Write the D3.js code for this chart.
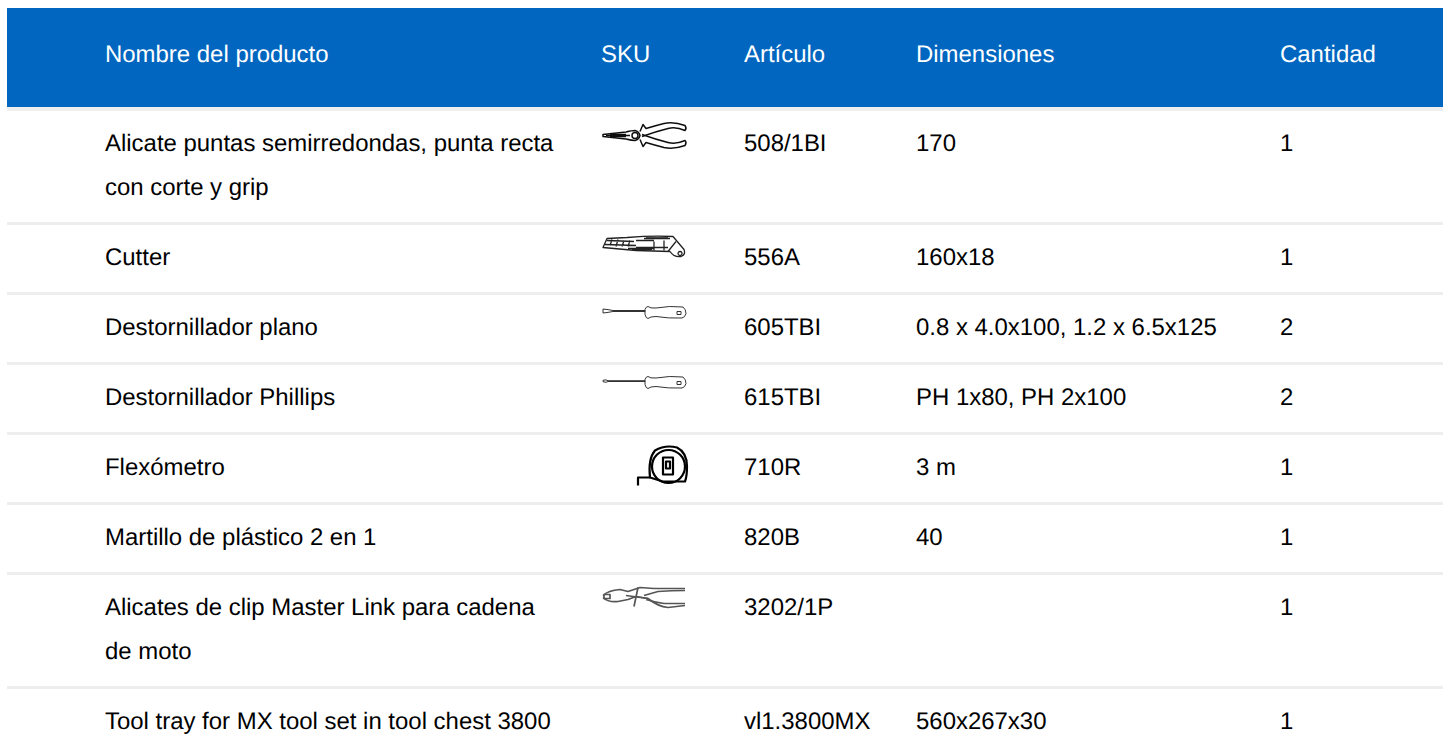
<!DOCTYPE html>
<html>
<head>
<meta charset="utf-8">
<script src="https://cdn.jsdelivr.net/npm/d3@7"></script>
<style>
    html, body { margin: 0; padding: 0; background: #fff; overflow: hidden; }
    text { font-family: "Liberation Sans", Arial, sans-serif; font-size: 23.95px; text-rendering: geometricPrecision; }
</style>
</head>
<body>
<div id="chart"></div>
<script>
const headers = ['Nombre del producto', 'SKU', 'Artículo', 'Dimensiones', 'Cantidad'];
const names = [
    ['Alicate puntas semirredondas, punta recta', 'con corte y grip'],
    ['Cutter'],
    ['Destornillador plano'],
    ['Destornillador Phillips'],
    ['Flexómetro'],
    ['Martillo de plástico 2 en 1'],
    ['Alicates de clip Master Link para cadena', 'de moto'],
    ['Tool tray for MX tool set in tool chest 3800']
];
const icons = ['pliers', 'cutter', 'flat', 'phillips', 'tape', null, 'clip', null];
const articles = ['508/1BI', '556A', '605TBI', '615TBI', '710R', '820B', '3202/1P', 'vl1.3800MX'];
const dimensions = ['170', '160x18', '0.8 x 4.0x100, 1.2 x 6.5x125', 'PH 1x80, PH 2x100', '3 m', '40', '', '560x267x30'];
const quantities = ['1', '1', '2', '2', '1', '1', '1', '1'];

// Line drawings, local coordinates of the thumbnail
const iconPaths = {
    pliers: [
        'M1 12 L24 9.5 Q30 8 33 8 Q37 9 38 13 Q37 17 33 18 Q30 18 24 16.5 L1 14 Z',
        'M4 13 H28 M8 12 H24 M8 14 H24',
        'M38 9 L41 2 L44 6 Q54 3 62 1 Q72 -1 83 3 Q85 6 83 8 Q74 4 66 6 Q54 9 40 14',
        'M38 17 L41 24 L44 20 Q54 23 62 25 Q72 27 83 23 Q85 20 83 18 Q74 22 66 20 Q54 17 40 12',
        'M30 13 A3 3 0 1 1 36 13 A3 3 0 1 1 30 13 Z'
    ],
    cutter: [
        'M1 11 L5 2 L25 1 Q50 -1 71 0 L82 13 Q84 18 79 20 Q72 21 68 15 L34 14 L1 11 Z',
        'M5 4 L32 5 M3 8 L34 9 M10 3 L8 9 M16 3 L14 10 M22 4 L20 10 M28 4 L26 10',
        'M42 2 H68 M52 5 V14 M62 4 V14 M74 5 L66 15 M34 4 H52 M34 11 H66',
        'M26 12 H52 M30 13 H50 M44 1.5 H66 M78 15 A2 2 0 1 0 78.1 15 Z'
    ],
    flat: [
        'M1 2.5 Q6 3 11 4 H43 V5 H11 Q6 6 1 6.5 Z',
        'M43 3 Q44 0 46 0 Q48 2 54 1.5 Q68 -1 81 0.5 Q84 3 84 7 Q83 11 80 11.5 Q66 12 54 10 Q48 10 46 12 Q44 12 43 8 Z',
        'M75 5 H79 V8 H75 Z'
    ],
    phillips: [
        'M1 3.8 L4 3.4 L6 4.2 H43 V5 H6 L4 5.8 L1 5.2 Z',
        'M43 3 Q44 0 46 0 Q48 2 54 1.5 Q68 -1 81 0.5 Q84 3 84 7 Q83 11 80 11.5 Q66 12 54 10 Q48 10 46 12 Q44 12 43 8 Z',
        'M75 5 H79 V8 H75 Z'
    ],
    tape: [
        'M13 31 Q11 12 18 4 Q28 -2 40 1 Q50 6 50 20 Q50 30 48 35 H26 L13 31 Z',
        'M1 39 V31 H13',
        'M15 20 A16.5 16.5 0 1 1 48 20 A16.5 16.5 0 1 1 15 20 Z',
        'M26 11 H36 V28 H26 Z',
        'M29 15 H33 V22 H29 Z'
    ],
    clip: [
        'M1 9 Q6 4 18 3 L26 5 L38 1 L52 2 L83 2',
        'M1 11 Q6 16 16 15 L26 13 L34 10 L46 12 Q56 20 66 21 L83 19',
        'M36 1 L32 20 M24 9 L46 12 M42 9 L56 5 Q70 4 83 4 M44 13 Q54 16 62 17 L83 17',
        'M2 8 H8 V12 H2 Z'
    ]
};
const iconStyle = {
    pliers: { stroke: '#111', width: 1.5, dx: 0 },
    cutter: { stroke: '#222', width: 1.3, dx: 0 },
    flat: { stroke: '#333', width: 1, dx: 0 },
    phillips: { stroke: '#333', width: 1, dx: 0 },
    tape: { stroke: '#000', width: 2.2, dx: 35 },
    clip: { stroke: '#555', width: 1.7, dx: 0 }
};

const width = 1452;
const height = 755;
const tableLeft = 7;
const tableRight = 1443;
const headerTop = 8;
const headerBottom = 107;
const border = 3;
const lineHeight = 44;
const padding = 11.5;

const colX = d3.scaleOrdinal().domain(headers).range([105, 601, 744, 916, 1280]);
const iconX = 602;

const svg = d3.select('#chart').append('svg')
    .attr('width', width)
    .attr('height', height)
    .style('display', 'block');

// Slight softening, the thumbnails are scaled bitmaps in the original
svg.append('defs').append('filter')
    .attr('id', 'soft')
    .append('feGaussianBlur')
    .attr('stdDeviation', 0.35);

// Grey strip under the header is a bit thicker than the row borders
svg.append('rect')
    .attr('x', tableLeft)
    .attr('y', headerBottom)
    .attr('width', tableRight - tableLeft)
    .attr('height', 4)
    .attr('fill', '#eeeeee');

// Header band
svg.append('rect')
    .attr('x', tableLeft)
    .attr('y', headerTop)
    .attr('width', tableRight - tableLeft)
    .attr('height', headerBottom - headerTop)
    .attr('fill', '#0066bf');

svg.selectAll('.head')
    .data(headers)
    .enter().append('text')
    .attr('class', 'head')
    .attr('x', d => colX(d))
    .attr('y', 62)
    .attr('fill', '#fff')
    .text(d => d);

// Row tops come from how many lines the product name takes
let nextTop = headerBottom + 1;
const rows = names.map((lines, i) => {
    const row = { i, lines, rowTop: nextTop + border };
    nextTop = row.rowTop + padding * 2 + lines.length * lineHeight;
    return row;
});

const g = svg.selectAll('.row')
    .data(rows)
    .enter().append('g')
    .attr('class', 'row')
    .attr('transform', d => `translate(0,${d.rowTop})`);

g.append('rect')
    .attr('x', tableLeft)
    .attr('y', -border)
    .attr('width', tableRight - tableLeft)
    .attr('height', border)
    .attr('fill', '#eeeeee');

g.selectAll('.name')
    .data(d => d.lines)
    .enter().append('text')
    .attr('class', 'name')
    .attr('x', colX(headers[0]))
    .attr('y', (d, i) => 40 + i * lineHeight)
    .attr('fill', '#000')
    .text(d => d);

const cells = [[headers[2], articles], [headers[3], dimensions], [headers[4], quantities]];
cells.forEach(([col, values]) => {
    g.append('text')
        .attr('x', colX(col))
        .attr('y', 40)
        .attr('fill', '#000')
        .text(d => values[d.i]);
});

const icon = g.filter(d => icons[d.i])
    .append('g')
    .attr('transform', d => `translate(${iconX + iconStyle[icons[d.i]].dx},${padding})`)
    .attr('fill', 'none')
    .attr('filter', 'url(#soft)')
    .attr('stroke-linejoin', 'round')
    .attr('stroke', d => iconStyle[icons[d.i]].stroke)
    .attr('stroke-width', d => iconStyle[icons[d.i]].width);

icon.selectAll('path')
    .data(d => iconPaths[icons[d.i]])
    .enter().append('path')
    .attr('d', d => d);
</script>
</body>
</html>
